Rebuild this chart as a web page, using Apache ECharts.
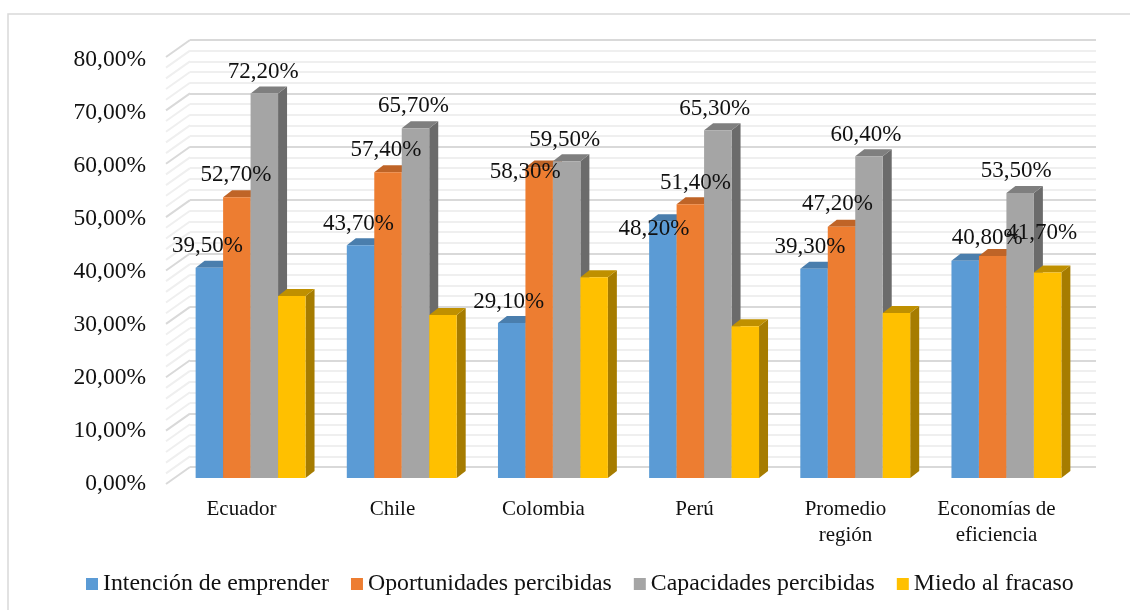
<!DOCTYPE html>
<html>
<head>
<meta charset="utf-8">
<style>html,body{margin:0;background:#fff}#main{width:1130px;height:610px}</style>
<script src="https://cdn.jsdelivr.net/npm/echarts@6/dist/echarts.min.js"></script>
</head>
<body>
<div id="main"></div>
<script>
var categories = ['Ecuador', 'Chile', 'Colombia', 'Perú', 'Promedio\nregión', 'Economías de\neficiencia'];
var intencion = [39.5, 43.7, 29.1, 48.2, 39.3, 40.8];
var oportunidades = [52.7, 57.4, 58.3, 51.4, 47.2, 41.7];
var capacidades = [72.2, 65.7, 59.5, 65.3, 60.4, 53.5];
var miedo = [34.2, 30.6, 37.7, 28.5, 31.0, 38.6];
var minorTicks = [0, 2, 4, 6, 8, 10, 12, 14, 16, 18, 20, 22, 24, 26, 28, 30, 32, 34, 36, 38, 40, 42, 44, 46, 48, 50, 52, 54, 56, 58, 60, 62, 64, 66, 68, 70, 72, 74, 76, 78, 80];

// nudges of the data labels, they were placed by hand in the original
var labelNudge = [
    [[-2, -21.5], [-1, -22.5], [-1, -21.5]],
    [[-2, -21.5], [-2, -22.5], [-2, -22.5]],
    [[-3, -21.5], [-14, 4.5], [-2, -21.5]],
    [[-9, 7.5], [5, -21.5], [-3, -21.5]],
    [[-4, -21.5], [-4, -22.5], [-3, -21.5]],
    [[22, -22.5], [49, -22.5], [-4, -22.5]]
];

var font = '"Liberation Serif", "Times New Roman", serif';
var faceColors = ['#5B9BD5', '#ED7D31', '#A5A5A5', '#FFC000'];
var topColors = ['#4A7EAD', '#BF6427', '#7F7F7F', '#BF9000'];
var sideColors = ['#3F6D96', '#A55722', '#6B6B6B', '#A67C00'];
var seriesNames = ['Intención de emprender', 'Oportunidades percibidas', 'Capacidades percibidas', 'Miedo al fracaso'];
var seriesData = [intencion, oportunidades, capacidades, miedo];
var depthX = 9, depthY = 7;

var myChart = echarts.init(document.getElementById('main'));

function fmt(v) {
    return v.toFixed(2).replace('.', ',') + '%';
}

function barRenderer(s) {
    return function (params, api) {
        var i = api.value(0);
        var v = api.value(1);
        var groupW = api.size([1, 0])[0] * 0.727;
        var w = groupW / 4;
        var base = api.coord([i, 0]);
        var top = api.coord([i, v]);
        var x0 = base[0] - groupW / 2 + s * w;
        var x1 = x0 + w;
        var children = [
            {
                type: 'polygon',
                shape: { points: [[x1, top[1]], [x1 + depthX, top[1] - depthY], [x1 + depthX, base[1] - depthY], [x1, base[1]]] },
                style: { fill: sideColors[s] }
            },
            {
                type: 'polygon',
                shape: { points: [[x0, top[1]], [x0 + depthX, top[1] - depthY], [x1 + depthX, top[1] - depthY], [x1, top[1]]] },
                style: { fill: topColors[s] }
            },
            {
                type: 'rect',
                shape: { x: x0, y: top[1], width: w, height: base[1] - top[1] },
                style: { fill: faceColors[s] }
            }
        ];
        // yellow series has no labels in the original
        if (s < 3) {
            var nudge = labelNudge[i][s];
            children.push({
                type: 'text',
                z2: 100,
                style: {
                    text: fmt(v),
                    x: (x0 + x1) / 2 + nudge[0],
                    y: top[1] + nudge[1],
                    align: 'center',
                    verticalAlign: 'middle',
                    font: '23px ' + font,
                    fill: '#111'
                }
            });
        }
        return { type: 'group', children: children };
    };
}

// the slanted lines of the left wall, from the front edge to the back wall
function sideWall(params, api) {
    var v = api.value(0);
    var p = api.coord([0, v]);
    var major = v % 10 === 0;
    return {
        type: 'line',
        shape: { x1: params.coordSys.x - 24, y1: p[1] + 17, x2: params.coordSys.x, y2: p[1] },
        style: { stroke: major ? '#d9d9d9' : '#efefef', lineWidth: 2 }
    };
}

var series = [{
    type: 'custom',
    silent: true,
    xAxisIndex: 0,
    yAxisIndex: 0,
    renderItem: sideWall,
    encode: { y: 0 },
    data: minorTicks.map(function (v) { return [v]; }),
    z: 1
}];

seriesNames.forEach(function (name, s) {
    series.push({
        name: name,
        type: 'custom',
        xAxisIndex: 2,
        yAxisIndex: 2,
        renderItem: barRenderer(s),
        itemStyle: { color: faceColors[s] },
        encode: { x: 0, y: 1 },
        data: seriesData[s].map(function (v, i) { return [i, v]; }),
        z: 2
    });
});

var option = {
    animation: false,
    // frame of the picture, only top and left are inside the crop
    graphic: [{
        type: 'polyline',
        silent: true,
        shape: { points: [[8, 610], [8, 14], [1130, 14]] },
        style: { fill: 'none', stroke: '#d9d9d9', lineWidth: 1.5 }
    }],
    legend: {
        data: seriesNames,
        left: 81,
        top: 567,
        itemWidth: 12,
        itemHeight: 12,
        itemGap: 22,
        icon: 'rect',
        textStyle: { fontFamily: font, fontSize: 23.8, color: '#111' }
    },
    grid: [
        { left: 190, top: 40, width: 906, height: 427 },
        { left: 166, top: 60, width: 906, height: 424 },
        { left: 175, top: 52, width: 907, height: 426 }
    ],
    xAxis: [
        { gridIndex: 0, type: 'category', data: categories, show: false },
        {
            gridIndex: 1,
            type: 'category',
            data: categories,
            axisLine: { show: false },
            axisTick: { show: false },
            axisLabel: { interval: 0, fontFamily: font, fontSize: 21, color: '#111', lineHeight: 26, margin: 12 }
        },
        { gridIndex: 2, type: 'category', data: categories, show: false }
    ],
    yAxis: [
        {
            gridIndex: 0,
            type: 'value',
            min: 0,
            max: 80,
            interval: 10,
            axisLine: { show: false },
            axisTick: { show: false },
            axisLabel: { show: false },
            splitLine: { show: true, lineStyle: { color: '#d9d9d9', width: 2 } },
            minorTick: { show: false, splitNumber: 5 },
            minorSplitLine: { show: true, lineStyle: { color: '#efefef', width: 2 } }
        },
        {
            gridIndex: 1,
            type: 'value',
            min: 0,
            max: 80,
            interval: 10,
            axisLine: { show: false },
            axisTick: { show: false },
            splitLine: { show: false },
            axisLabel: {
                fontFamily: font,
                fontSize: 23.5,
                color: '#111',
                margin: 20,
                formatter: function (v) { return fmt(v); }
            }
        },
        { gridIndex: 2, type: 'value', min: 0, max: 80, interval: 10, show: false, splitLine: { show: false } }
    ],
    series: series
};

myChart.setOption(option);
</script>
</body>
</html>
